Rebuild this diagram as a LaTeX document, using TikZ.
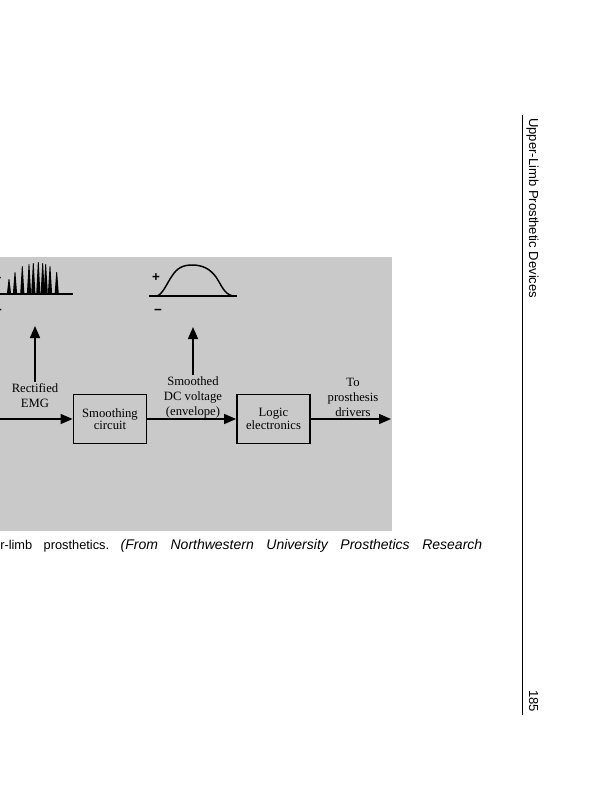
\documentclass[tikz,border=0pt]{standalone}
\usepackage{fontspec}
\setmainfont{Liberation Serif}
\newfontfamily\headfont{Liberation Sans}
\usetikzlibrary{arrows.meta}
\definecolor{PanelGray}{HTML}{C9C9C9}
\newcommand\lblfont{\fontsize{9.5}{11}\selectfont}
\newcommand\blkfont{\fontsize{9.5}{9.5}\selectfont}
\newcommand\signfont{\headfont\bfseries\fontsize{10}{10}\selectfont}
\newcommand\capfont{\headfont\fontsize{9.6}{11}\selectfont\frenchspacing}

\begin{document}
\begin{tikzpicture}[x=0.75pt,y=-0.75pt,
    blk/.style={draw,line width=1.1pt,minimum width=55pt,minimum height=37pt,inner sep=0pt,align=center,font=\blkfont},
    lab/.style={align=center,font=\lblfont,inner sep=1pt},
    sign/.style={font=\signfont,inner sep=0pt},
    sig/.style={-{Triangle[length=9pt,width=7.5pt]},line width=1.1pt}]
      \useasboundingbox (0,0) rectangle (599,800);
      \fill[PanelGray] (0,257) rectangle (392,531);
      % rectified EMG trace
      \draw[line width=1pt] (0,294)--(73,294);
      \foreach \sx/\sy in {9/279,15/272,22.3/266,29/264,33.3/263,38.3/262,42.7/263,45.7/264,50/266,56.7/272}
        \fill (\sx-2.1,294)--(\sx-0.4,\sy)--(\sx+0.4,\sy)--(\sx+2.1,294)--cycle;
      \node[sign] (emgplus) at (-2.5,279) {+};
      \node[sign] (emgminus) at (-2,312) {−};
      % envelope trace
      \draw[line width=1pt] (149,296)--(237,296);
      \draw[line width=1.1pt] (157,296) .. controls (163,294) and (167,283) .. (172,276) .. controls (177,268) and (183,265) .. (192,265) .. controls (203,265) and (210,269) .. (216,277) .. controls (222,286) and (224,294) .. (233,296);
      \node[sign] (envplus) at (156,278) {+};
      \node[sign] (envminus) at (158,312) {−};
      % blocks
      \node[blk] (smooth) at (110,419) {Smoothing\\circuit};
      \node[blk] (logic) at (273.5,419) {Logic\\electronics};
      \coordinate (emgin) at (0,419);
      \coordinate (drv) at (391,419);
      \draw[sig] (emgin)--(smooth);
      \draw[sig] (smooth)--(logic);
      \draw[sig] (logic)--(drv);
      \node[lab] (emg) at (35,395.5) {Rectified\\EMG};
      \node[lab] (env) at (193,397.5) {Smoothed\\DC voltage\\(envelope)};
      \node[lab] (todrv) at (353,397.5) {To\\prosthesis\\drivers};
      \coordinate (emgtip) at (35,326);
      \coordinate (envtip) at (193,327);
      \draw[sig] (emg.north)--(emgtip);
      \draw[sig] (env.north)--(envtip);
      % caption and running head
      \node[anchor=base west,inner sep=0pt,font=\capfont] (capt) at (0,549) {\makebox[361.5pt][s]{r-limb prosthetics. {\fontsize{10.5}{11}\selectfont\itshape (From Northwestern University Prosthetics Research}}};
      \draw[line width=0.6pt] (522,115)--(522,715);
      \node[rotate=-90,anchor=base west,inner sep=0pt,font=\headfont\fontsize{9.8}{10}\selectfont] (runhead) at (529,118) {Upper-Limb Prosthetic Devices};
      \node[rotate=-90,anchor=base west,inner sep=0pt,font=\headfont\fontsize{9.8}{10}\selectfont] (folio) at (529,690) {185};
    \end{tikzpicture}
\end{document}
